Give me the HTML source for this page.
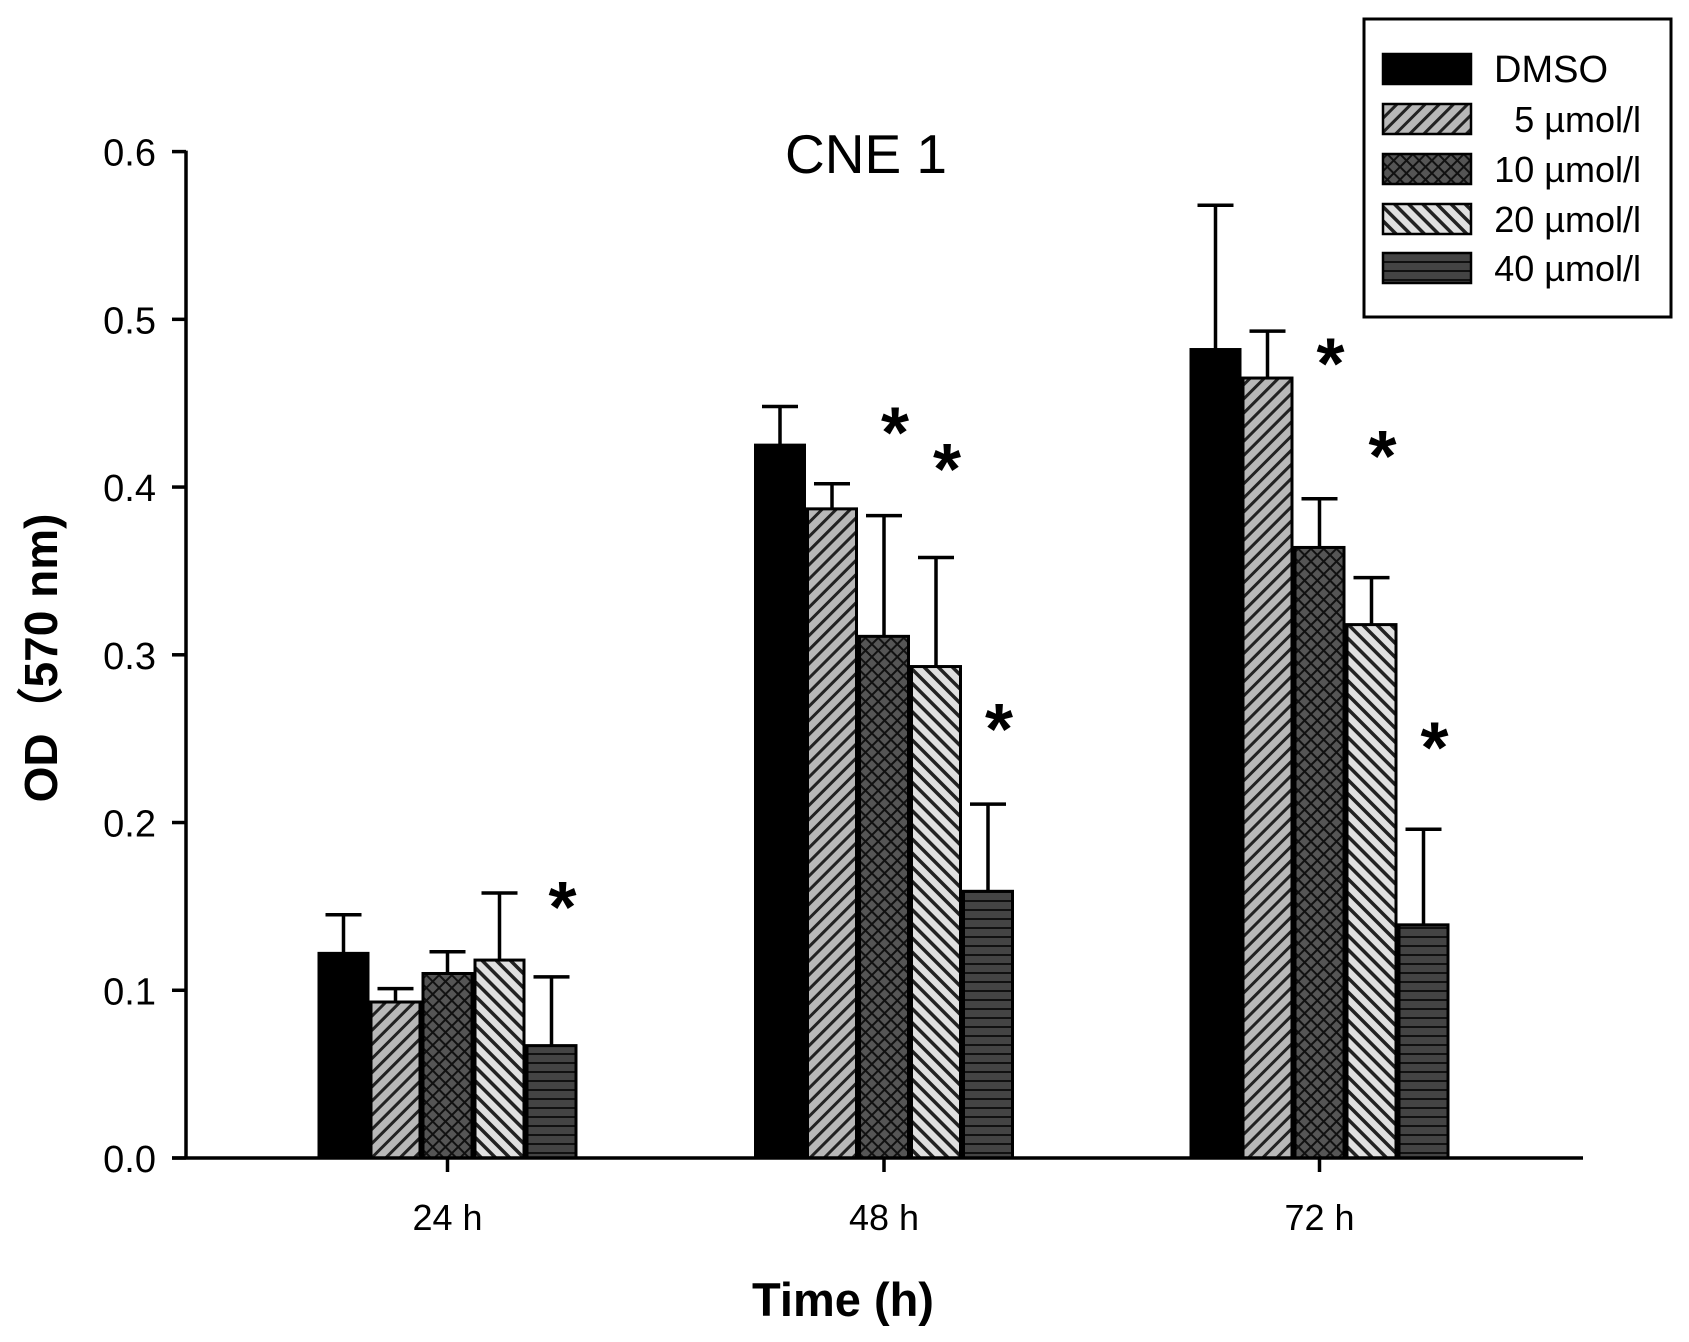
<!DOCTYPE html>
<html><head><meta charset="utf-8"><style>
html,body{margin:0;padding:0;background:#fff;}
svg{display:block;font-family:"Liberation Sans",Arial,sans-serif;}
</style></head><body>
<svg id="chart" width="1689" height="1342" viewBox="0 0 1689 1342" xmlns="http://www.w3.org/2000/svg">
<defs>
<pattern id="p5" patternUnits="userSpaceOnUse" width="10" height="10" patternTransform="rotate(45)">
<rect width="10" height="10" fill="#b8b8b8"/><rect x="0" y="0" width="3" height="10" fill="#222"/></pattern>
<pattern id="p10" patternUnits="userSpaceOnUse" width="9" height="9" patternTransform="rotate(45)">
<rect width="9" height="9" fill="#555"/><rect x="0" y="0" width="2" height="9" fill="#111"/><rect x="0" y="0" width="9" height="2" fill="#111"/></pattern>
<pattern id="p20" patternUnits="userSpaceOnUse" width="10" height="10" patternTransform="rotate(-45)">
<rect width="10" height="10" fill="#e0e0e0"/><rect x="0" y="0" width="3.5" height="10" fill="#222"/></pattern>
<pattern id="p40" patternUnits="userSpaceOnUse" width="10" height="9">
<rect width="10" height="9" fill="#444"/><rect x="0" y="0" width="10" height="2" fill="#111"/></pattern>
</defs>
<g id="plot"></g>
</svg>
<script>
const categories = ["24 h", "48 h", "72 h"];
const seriesNames = ["DMSO", "5 µmol/l", "10 µmol/l", "20 µmol/l", "40 µmol/l"];
const dmso = [0.122, 0.425, 0.482];
const s5 = [0.093, 0.387, 0.465];
const s10 = [0.110, 0.311, 0.364];
const s20 = [0.118, 0.293, 0.318];
const s40 = [0.067, 0.159, 0.139];
const errDmso = [0.023, 0.023, 0.086];
const err5 = [0.008, 0.015, 0.028];
const err10 = [0.013, 0.072, 0.029];
const err20 = [0.040, 0.065, 0.028];
const err40 = [0.041, 0.052, 0.057];
const starCat = [0, 1, 1, 1, 2, 2, 2];
const starSeries = [4, 2, 3, 4, 2, 3, 4];
const starVal = [0.155, 0.438, 0.416, 0.261, 0.479, 0.424, 0.250];
const yTicks = [0.0, 0.1, 0.2, 0.3, 0.4, 0.5, 0.6];

const NS = "http://www.w3.org/2000/svg";
const g = document.getElementById("plot");
const X0 = 186, X1 = 1583, Y0 = 1158, Y6 = 151.6;
const yScale = v => Y0 - (v / 0.6) * (Y0 - Y6);
const groupCenters = [447.5, 884, 1319.5];
const xCat = i => groupCenters[i];
const barW = 49, step = 52;
const xBar = (c, s) => xCat(c) + (s - 2) * step;
const fills = ["#000", "url(#p5)", "url(#p10)", "url(#p20)", "url(#p40)"];
const series = [dmso, s5, s10, s20, s40];
const errs = [errDmso, err5, err10, err20, err40];

function mk(tag, attrs, parent) {
  const e = document.createElementNS(NS, tag);
  for (const k in attrs) e.setAttribute(k, attrs[k]);
  (parent || g).appendChild(e);
  return e;
}

series.forEach((vals, s) => {
  vals.forEach((v, c) => {
    const cx = xBar(c, s);
    const top = yScale(v + errs[s][c]);
    const el = mk("line", {x1: cx, x2: cx, y1: yScale(v), y2: top, stroke: "#000", "stroke-width": 3.5});
    
    
    const cap = mk("line", {x1: cx - 18, x2: cx + 18, y1: top, y2: top, stroke: "#000", "stroke-width": 3.5});
    
    
    const r = mk("rect", {x: cx - barW / 2, y: yScale(v), width: barW, height: Y0 - yScale(v), fill: fills[s], stroke: "#000", "stroke-width": 3});
    
    
  });
});

starVal.forEach((v, i) => {
  const t = mk("text", {x: xBar(starCat[i], starSeries[i]) + 11, y: yScale(v) + 34, "font-size": 72, "font-weight": "bold", "text-anchor": "middle"});
  t.textContent = "*";
  
  
});

let ax = mk("line", {x1: X0, x2: X0, y1: Y6 - 1, y2: Y0 + 1, stroke: "#000", "stroke-width": 3.5});


ax = mk("line", {x1: X0 - 14, x2: X1, y1: Y0, y2: Y0, stroke: "#000", "stroke-width": 3.5});



yTicks.forEach(v => {
  const y = yScale(v);
  const tk = mk("line", {x1: X0 - 14, x2: X0, y1: y, y2: y, stroke: "#000", "stroke-width": 3.5});
  
  
  const t = mk("text", {x: 156, y: y + 14, "font-size": 38, "text-anchor": "end"});
  t.textContent = v.toFixed(1);
  
  
});

categories.forEach((c, i) => {
  const x = xCat(i);
  const tk = mk("line", {x1: x, x2: x, y1: Y0, y2: Y0 + 14, stroke: "#000", "stroke-width": 3.5});
  
  
  const t = mk("text", {x: x, y: 1230, "font-size": 36, "text-anchor": "middle"});
  t.textContent = c;
  
  
});

let t = mk("text", {x: 843, y: 1316, "font-size": 47, "font-weight": "bold", "text-anchor": "middle"});
t.textContent = "Time (h)";



t = mk("text", {x: 0, y: 0, "font-size": 46, "font-weight": "bold", "text-anchor": "middle", transform: "translate(57,658) rotate(-90)"});
t.textContent = "OD（570 nm)";



t = mk("text", {x: 866, y: 173, "font-size": 55, "text-anchor": "middle"});
t.textContent = "CNE 1";



const lg = mk("g", {});


mk("rect", {x: 1364, y: 19, width: 307, height: 298, fill: "#fff", stroke: "#000", "stroke-width": 3}, lg);
const rowY = [69, 119, 169, 219, 268];
seriesNames.forEach((n, i) => {
  const sw = mk("rect", {x: 1383, y: rowY[i] - 15, width: 88, height: 30, fill: fills[i], stroke: "#000", "stroke-width": 2.5}, lg);
  
  
  const tx = mk("text", {x: i === 0 ? 1494 : 1641, y: rowY[i] + 13, "font-size": i === 0 ? 38 : 36, "text-anchor": i === 0 ? "start" : "end"}, lg);
  tx.textContent = n;
  
  
});
</script>
</body></html>
